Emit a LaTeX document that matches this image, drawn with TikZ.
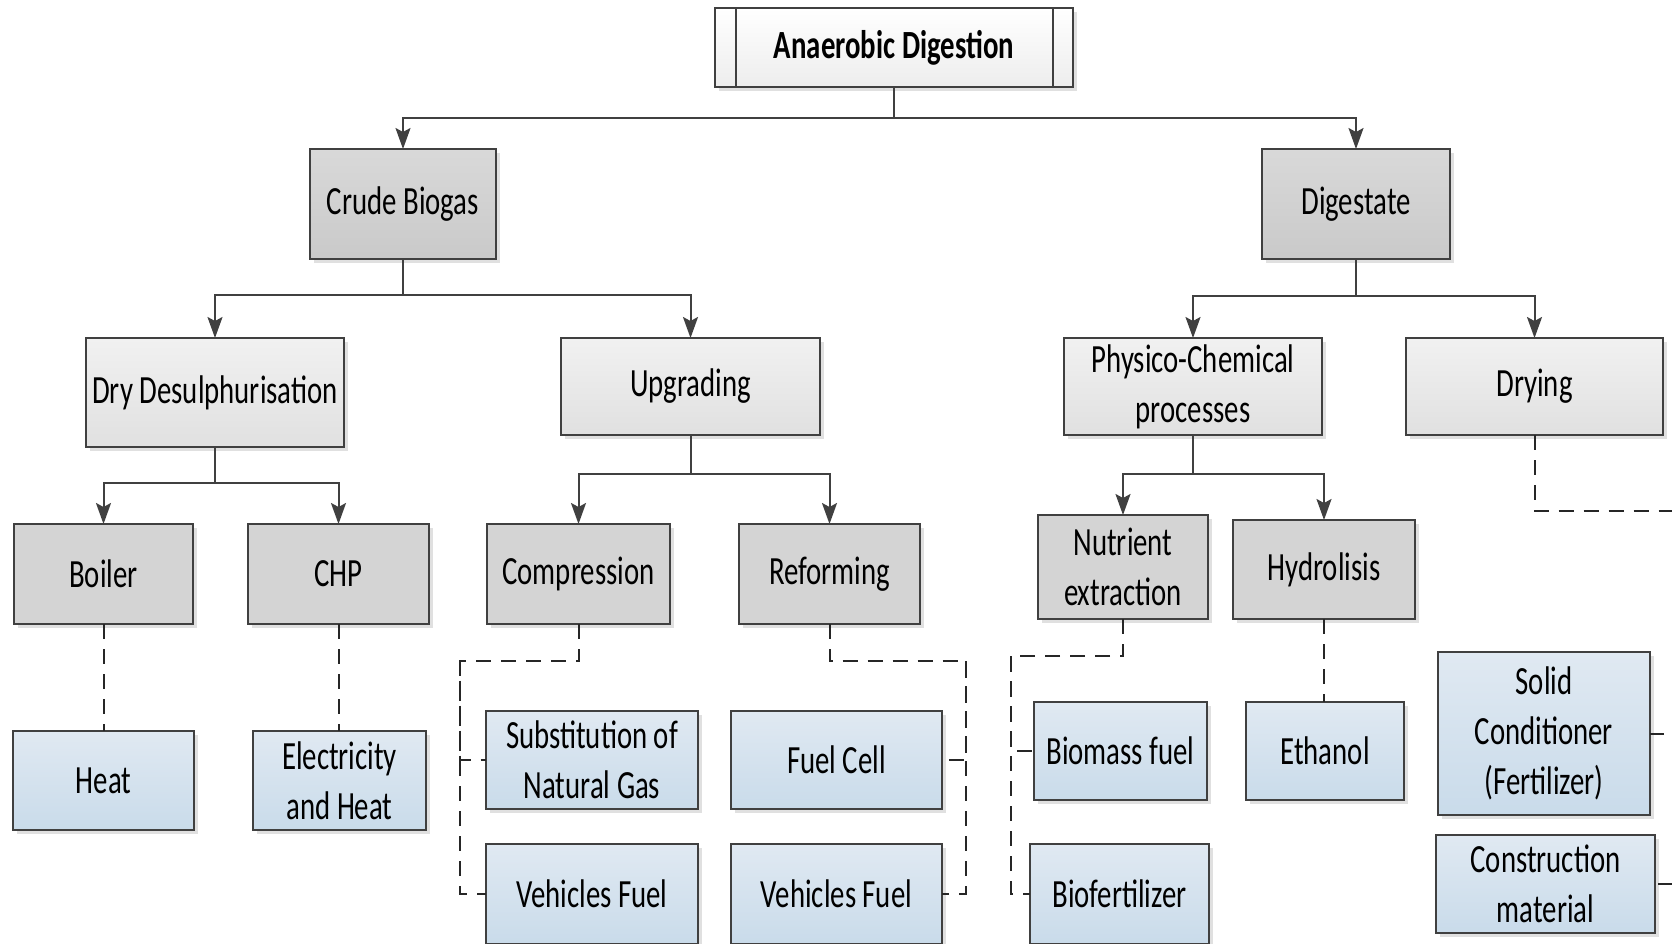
\documentclass[tikz,border=0pt]{standalone}
\usepackage{fontspec}
\setmainfont{Carlito}[FakeStretch=0.72]
\usetikzlibrary{arrows.meta,shadows}

\definecolor{edge}{HTML}{404040}
\definecolor{dashcol}{HTML}{262626}
\definecolor{leaftop}{HTML}{E0E9F2}
\definecolor{leafbot}{HTML}{C9DBEA}

\begin{document}
\begin{tikzpicture}[x=1pt, y=-1pt,
	box/.style={rectangle, draw=edge, line width=1.8pt, inner sep=0pt, outer sep=0pt, align=center, font=\fontsize{40}{50}\selectfont, general shadow={fill=black!12, shadow xshift=4pt, shadow yshift=-4pt}},
	rootbox/.style={box, top color=white, bottom color=gray!14},
	gasbox/.style={box, top color=gray!30, bottom color=gray!42},
	stagebox/.style={box, top color=gray!11, bottom color=gray!24},
	unitbox/.style={box, fill=gray!34},
	usebox/.style={box, top color=leaftop, bottom color=leafbot},
	arr/.style={-{Stealth[length=21pt, width=15pt, inset=4pt]}, draw=edge, line width=2pt},
	dline/.style={draw=dashcol, line width=2pt, dash pattern=on 15pt off 10pt}]
		
		\useasboundingbox (0,0) rectangle (1672,943);
		\clip (0,0) rectangle (1672,943);
		
		% Root and products
		\node[rootbox, minimum width=358pt, minimum height=79pt, font=\fontsize{40}{50}\selectfont\bfseries] (ad) at (894,47.5) {Anaerobic Digestion};
		\draw[edge, line width=1.8pt] ([xshift=21pt]ad.north west) -- ([xshift=21pt]ad.south west);
		\draw[edge, line width=1.8pt] ([xshift=-20pt]ad.north east) -- ([xshift=-20pt]ad.south east);
		\node[gasbox, minimum width=186pt, minimum height=110pt] (crude) at (403,204) {Crude Biogas};
		\node[gasbox, minimum width=188pt, minimum height=110pt] (dig) at (1356,204) {Digestate};
		
		% Treatments
		\node[stagebox, minimum width=258pt, minimum height=109pt] (desulph) at (215,392.5) {Dry Desulphurisation};
		\node[stagebox, minimum width=259pt, minimum height=97pt] (upgr) at (690.5,386.5) {Upgrading};
		\node[stagebox, minimum width=258pt, minimum height=97pt] (phys) at (1193,386.5) {Physico-Chemical\\processes};
		\node[stagebox, minimum width=257pt, minimum height=97pt] (drying) at (1534.5,386.5) {Drying};
		
		% Units
		\node[unitbox, minimum width=179pt, minimum height=100pt] (boiler) at (103.5,574) {Boiler};
		\node[unitbox, minimum width=181pt, minimum height=100pt] (chp) at (338.5,574) {CHP};
		\node[unitbox, minimum width=183pt, minimum height=100pt] (compr) at (578.5,574) {Compression};
		\node[unitbox, minimum width=181pt, minimum height=100pt] (reform) at (829.5,574) {Reforming};
		\node[unitbox, minimum width=170pt, minimum height=104pt] (nutr) at (1123,567) {Nutrient\\extraction};
		\node[unitbox, minimum width=182pt, minimum height=99pt] (hydro) at (1324,569.5) {Hydrolisis};
		
		% End uses
		\node[usebox, minimum width=181pt, minimum height=99pt] (heat) at (103.5,780.5) {Heat};
		\node[usebox, minimum width=173pt, minimum height=99pt] (elec) at (339.5,780.5) {Electricity\\and Heat};
		\node[usebox, minimum width=212pt, minimum height=98pt] (subst) at (592,760) {Substitution of\\Natural Gas};
		\node[usebox, minimum width=212pt, minimum height=100pt] (vfuelA) at (592,894) {Vehicles Fuel};
		\node[usebox, minimum width=211pt, minimum height=98pt] (fcell) at (836.5,760) {Fuel Cell};
		\node[usebox, minimum width=211pt, minimum height=100pt] (vfuelB) at (836.5,894) {Vehicles Fuel};
		\node[usebox, minimum width=173pt, minimum height=98pt] (biomass) at (1120.5,751) {Biomass fuel};
		\node[usebox, minimum width=179pt, minimum height=100pt] (biofert) at (1119.5,894) {Biofertilizer};
		\node[usebox, minimum width=158pt, minimum height=98pt] (ethanol) at (1325,751) {Ethanol};
		\node[usebox, minimum width=212pt, minimum height=163pt] (solid) at (1544,733.5) {Solid\\Conditioner\\(Fertilizer)};
		\node[usebox, minimum width=219pt, minimum height=98pt] (constr) at (1545.5,884) {Construction\\material};
		
		% Bends of the dashed links
		\coordinate (cL) at (460,661);
		\coordinate (rR) at (966,661);
		\coordinate (nL) at (1011,656);
		\coordinate (dR) at (1700,511);
		
		% Connect
		\draw[arr] (ad.south) -- ++(0,31) -| (crude.north);
		\draw[arr] (ad.south) -- ++(0,31) -| (dig.north);
		\draw[arr] (crude.south) -- ++(0,36) -| (desulph.north);
		\draw[arr] (crude.south) -- ++(0,36) -| (upgr.north);
		\draw[arr] (dig.south) -- ++(0,37) -| (phys.north);
		\draw[arr] (dig.south) -- ++(0,37) -| (drying.north);
		\draw[arr] (desulph.south) -- ++(0,36) -| (boiler.north);
		\draw[arr] (desulph.south) -- ++(0,36) -| (chp.north);
		\draw[arr] (upgr.south) -- ++(0,39) -| (compr.north);
		\draw[arr] (upgr.south) -- ++(0,39) -| (reform.north);
		\draw[arr] (phys.south) -- ++(0,39) -| (nutr.north);
		\draw[arr] (phys.south) -- ++(0,39) -| (hydro.north);
		
		\draw[dline] (boiler.south) -- (heat.north);
		\draw[dline] (chp.south) -- (chp.south |- elec.north);
		\draw[dline] (compr.south) |- (cL) |- (subst.west);
		\draw[dline] (cL) |- (vfuelA.west);
		\draw[dline] (reform.south) |- (rR) |- (fcell.east);
		\draw[dline] (rR) |- (vfuelB.east);
		\draw[dline] (nutr.south) |- (nL) |- (biomass.west);
		\draw[dline] (nL) |- (biofert.west);
		\draw[dline] (hydro.south) -- (hydro.south |- ethanol.north);
		\draw[dline] (drying.south) |- (dR) |- (solid.east);
		\draw[dline] (dR) |- (constr.east);
		
	\end{tikzpicture}
\end{document}
